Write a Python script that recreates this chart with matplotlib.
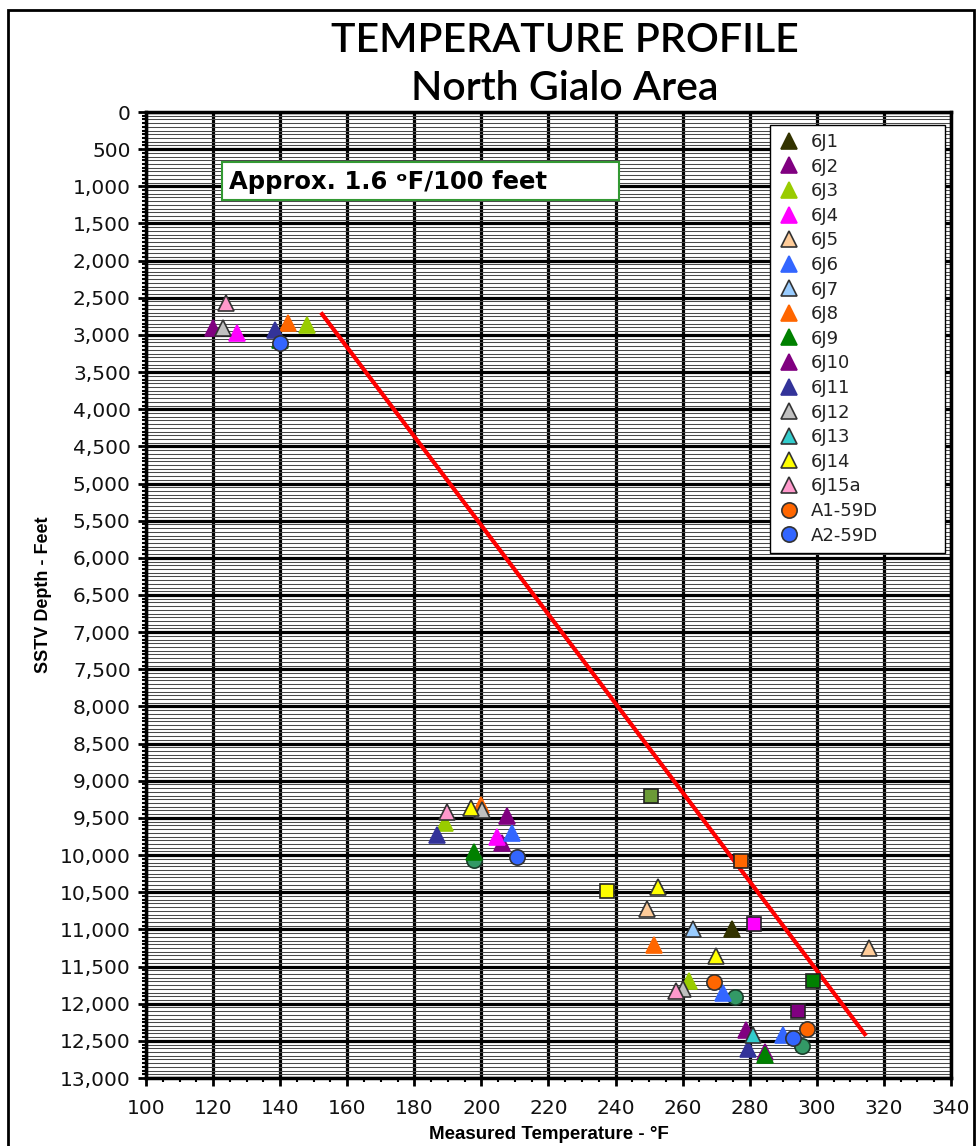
import numpy as np
import matplotlib.pyplot as plt
from matplotlib.patches import Rectangle
from matplotlib.ticker import MultipleLocator, FuncFormatter

# Well names shown in the legend
wells = ['6J1', '6J2', '6J3', '6J4', '6J5', '6J6', '6J7', '6J8', '6J9',
         '6J10', '6J11', '6J12', '6J13', '6J14', '6J15a', 'A1-59D', 'A2-59D']

# Measured temperature (deg F) per well
temps = [
    [274.7],
    [120.0, 206.0, 284.5],
    [148.0, 189.0, 262.0],
    [127.0, 204.5],
    [249.5, 315.5],
    [209.0, 272.0, 290.0],
    [263.0],
    [142.3, 200.0, 251.5],
    [140.0, 197.8, 284.5],
    [207.6, 278.8],
    [138.5, 186.7, 279.4],
    [123.0, 200.2, 260.0],
    [281.0],
    [197.0, 252.6, 270.0],
    [124.0, 189.7, 258.0],
    [269.3, 297.0],
    [140.0, 210.6, 293.0],
]

# SSTV depth (feet) per well
depths = [
    [11000],
    [2910, 9840, 12650],
    [2865, 9570, 11700],
    [2975, 9760],
    [10725, 11250],
    [9705, 11850, 12420],
    [10995],
    [2840, 9330, 11210],
    [3070, 9960, 12690],
    [9475, 12360],
    [2935, 9730, 12610],
    [2905, 9395, 11800],
    [12420],
    [9370, 10430, 11360],
    [2570, 9420, 11830],
    [11710, 12340],
    [3110, 10030, 12460],
]

# Additional readings not listed in the legend
square_temps = [237.4, 250.5, 277.4, 281.2, 299.0, 294.3]
square_depths = [10490, 9210, 10080, 10930, 11700, 12100]
circle_temps = [197.8, 275.6, 295.5]
circle_depths = [10070, 11910, 12570]

# Gradient line end points
trend_temps = [152.5, 314.3]
trend_depths = [2720, 12410]

face_colors = ['#333300', '#800080', '#99cc00', '#ff00ff', '#ffcc99', '#3366ff',
               '#99ccff', '#ff6600', '#008000', '#800080', '#333399', '#c0c0c0',
               '#33cccc', '#ffff00', '#ff99cc', '#ff6600', '#3366ff']
outlined = {'6J5', '6J7', '6J12', '6J13', '6J14', '6J15a', 'A1-59D', 'A2-59D'}
square_colors = ['#ffff00', '#6b9b37', '#ff6600', '#ff00ff', '#008000', '#800080']

fig = plt.figure(figsize=(9.77, 11.46), dpi=100)
ax = fig.add_axes([146 / 977, 1 - 1078 / 1146, 805 / 977, 966 / 1146])

# Grid: heavy lines every 20 F / 500 ft, fine lines every 50 ft
ax.set_xlim(100, 340)
ax.set_ylim(13000, 0)
ax.xaxis.set_major_locator(MultipleLocator(20))
ax.xaxis.set_minor_locator(MultipleLocator(5))
ax.yaxis.set_major_locator(MultipleLocator(500))
ax.yaxis.set_minor_locator(MultipleLocator(50))
ax.yaxis.set_major_formatter(FuncFormatter(lambda v, p: f'{int(v):,}'))
ax.grid(True, which='major', axis='both', color='black', lw=2.3, zorder=1)
ax.grid(True, which='minor', axis='y', color='#4a4a4a', lw=0.75, zorder=1)
ax.set_axisbelow(True)
for s in ax.spines.values():
    s.set_linewidth(2.5)

ax.tick_params(axis='y', which='major', labelsize=14.5, length=6, width=2,
               direction='out', pad=5)
ax.tick_params(axis='x', which='major', labelsize=14.5, length=6, width=2,
               direction='out', pad=9)
ax.tick_params(axis='both', which='minor', length=3, width=1.5, direction='out')
for lab in ax.get_xticklabels() + ax.get_yticklabels():
    lab.set_color('#111111')

# Red gradient line
ax.plot(trend_temps, trend_depths, color='#ff0000', lw=3, zorder=3)

# Unlabelled squares and circles
for t, d, c in zip(square_temps, square_depths, square_colors):
    ax.plot(t, d, 's', ms=10, mfc=c, mec='#222222', mew=1.2, zorder=4)
ax.plot(circle_temps, circle_depths, 'o', ms=11, mfc='#339966', mec='#1a3d2a', mew=1.2,
        ls='none', zorder=4)

# Well readings
for name, t, d, c in zip(wells, temps, depths, face_colors):
    marker = 'o' if name.startswith('A') else '^'
    ec = '#333333' if name in outlined else c
    ax.plot(t, d, marker, ms=11, mfc=c, mec=ec, mew=1.2, ls='none', label=name, zorder=5)

leg = ax.legend(loc='upper left', bbox_to_anchor=(0.775, 0.5466, 0.217, 0.44),
                mode='expand', fontsize=13, labelspacing=0.365, handlelength=1.2,
                handletextpad=0.6, borderpad=0.45, fancybox=False, framealpha=1,
                edgecolor='black', borderaxespad=0)
leg.get_frame().set_linewidth(1.0)
leg.set_zorder(6)
for txt in leg.get_texts():
    txt.set_color('#222222')

# Gradient note
ax.add_patch(Rectangle((122.6, 1184), 118.5, -511, facecolor='white',
                       edgecolor='#339933', lw=1.5, zorder=6))
ax.text(124.8, 945, 'Approx. 1.6 \u1d52F/100 feet', fontsize=17.5, fontweight='bold',
        va='center', ha='left', zorder=7)

ax.set_xlabel('Measured Temperature - \u00b0F', fontsize=13.5, fontweight='bold',
              family='Liberation Sans', labelpad=6)
ax.set_ylabel('SSTV Depth - Feet', fontsize=13, fontweight='bold',
              family='Liberation Sans', labelpad=6)

fig.text(565 / 977, 1 - 40 / 1146, 'TEMPERATURE PROFILE', ha='center', va='center',
         fontsize=29.5, fontweight='semibold', family='Lato')
fig.text(565 / 977, 1 - 88 / 1146, 'North Gialo Area', ha='center', va='center',
         fontsize=29.5, fontweight='semibold', family='Lato')

# Outer frame
fig.patches.append(Rectangle((8 / 977, -0.01), 966 / 977, 1 - 10 / 1146 + 0.01,
                             transform=fig.transFigure, fill=False, edgecolor='black',
                             lw=2, zorder=10))

fig.savefig('out.png', dpi=100)
